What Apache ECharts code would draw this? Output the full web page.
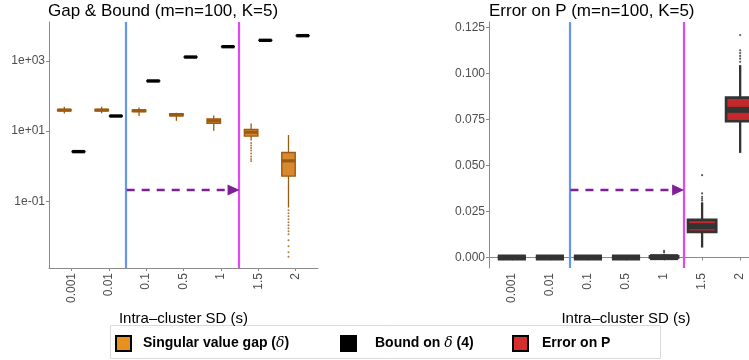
<!DOCTYPE html>
<html>
<head>
<meta charset="utf-8">
<script src="https://cdn.jsdelivr.net/npm/echarts@6/dist/echarts.min.js"></script>
<style>
  html, body { margin: 0; padding: 0; background: #fff; }
  #chart { width: 749px; height: 360px; }
</style>
</head>
<body>
<div id="chart"></div>
<script>
// categories (intra-cluster SD) placed at 1..7 on a value axis
const sdLabels = ['0.001', '0.01', '0.1', '0.5', '1', '1.5', '2'];
const sdPos = [1, 2, 3, 4, 5, 6, 7];

// box stats: [lower whisker, q1, median, q3, upper whisker]
const gapStats = [
  [31.6, 38, 39.8, 41.5, 50],
  [32.5, 38, 39.8, 41.5, 50],
  [27, 36.4, 38, 40, 47],
  [19.7, 27.4, 29.2, 31.2, 33.4],
  [10.2, 16.6, 19.7, 22.4, 28],
  [5.4, 7.2, 9.3, 11.2, 16.6],
  [0.066, 0.52, 1.42, 2.46, 7.7]
];
const gapOutliers = [
  [], [], [], [], [],
  [4.6, 3.9, 3.3, 2.8, 2.3, 1.9, 1.6, 1.4],
  [0.0553, 0.0454, 0.0372, 0.0306, 0.0251, 0.0206, 0.017, 0.0139, 0.0114, 0.0077, 0.0052, 0.0035, 0.0026]
];
const boundStats = [
  [2.58, 2.59, 2.6, 2.61, 2.62],
  [26.8, 26.9, 27, 27.1, 27.2],
  [268, 269, 270, 271, 272],
  [1295, 1298, 1300, 1302, 1305],
  [2560, 2565, 2570, 2575, 2580],
  [3890, 3895, 3900, 3905, 3910],
  [5290, 5295, 5300, 5305, 5310]
];
const errStats = [
  [0, 0, 0, 0, 0],
  [0, 0, 0, 0, 0],
  [0, 0, 0, 0, 0],
  [0, 0, 0, 0, 0],
  [0, 0, 0.0002, 0.0006, 0.0018],
  [0.0054, 0.0139, 0.017, 0.0204, 0.030],
  [0.0568, 0.074, 0.0802, 0.0868, 0.1045]
];
const errOutliers = [
  [], [], [], [],
  [0.0028, 0.0036],
  [0.031, 0.032, 0.033, 0.0348, 0.0447],
  [0.1063, 0.108, 0.1095, 0.111, 0.1125, 0.1208]
];

// threshold lines and arrow height per panel
const leftLines = [2.46, 5.48];
const leftArrowY = 0.21;
const rightLines = [2.52, 5.51];
const rightArrowY = 0.0366;

const leftTicks = [0.1, 10, 1000];
const leftTickText = { 0.1: '1e-01', 10: '1e+01', 1000: '1e+03' };
const rightTicks = [0, 0.025, 0.05, 0.075, 0.1, 0.125];

const FONT = 'Liberation Sans, Arial, Helvetica, sans-serif';
const AXIS_GREY = '#8a8a8a';
const LABEL_GREY = '#4d4d4d';

function toBoxData(stats) {
  return stats.map((s, i) => [sdPos[i]].concat(s));
}

function toPoints(outliers, offset) {
  const pts = [];
  outliers.forEach((arr, i) => arr.forEach((v) => pts.push([sdPos[i] + offset, v])));
  return pts;
}

function boxRenderer(o) {
  return function (params, api) {
    const x = api.value(0) + o.offset;
    const pt = (v) => api.coord([x, v]);
    const lo = pt(api.value(1));
    const q1 = pt(api.value(2));
    const md = pt(api.value(3));
    const q3 = pt(api.value(4));
    const hi = pt(api.value(5));
    const xl = api.coord([x - o.width / 2, api.value(3)])[0];
    const xr = api.coord([x + o.width / 2, api.value(3)])[0];
    const cx = md[0];
    return {
      type: 'group',
      children: [
        { type: 'line', shape: { x1: cx, y1: hi[1], x2: cx, y2: q3[1] }, style: { stroke: o.line, lineWidth: o.whisker } },
        { type: 'line', shape: { x1: cx, y1: q1[1], x2: cx, y2: lo[1] }, style: { stroke: o.line, lineWidth: o.whisker } },
        { type: 'rect', shape: { x: xl, y: q3[1], width: xr - xl, height: q1[1] - q3[1] }, style: { fill: o.fill, stroke: o.line, lineWidth: o.border } },
        { type: 'line', shape: { x1: xl, y1: md[1], x2: xr, y2: md[1] }, style: { stroke: o.line, lineWidth: o.median } }
      ]
    };
  };
}

function thresholdLines(xs, arrowY, end) {
  return {
    silent: true,
    animation: false,
    symbol: 'none',
    label: { show: false },
    emphasis: { disabled: true },
    data: [
      { xAxis: xs[0], lineStyle: { color: '#6394f0', width: 2.2, type: 'solid' } },
      { xAxis: xs[1], lineStyle: { color: '#e346f5', width: 2.2, type: 'solid' } },
      [
        { coord: [xs[0] + 0.02, arrowY], symbol: 'none', lineStyle: { color: '#7e1f96', width: 2.4, type: [8, 7] } },
        { coord: [end, arrowY], symbol: 'triangle', symbolSize: [11, 12] }
      ]
    ]
  };
}

const xAxisBase = {
  type: 'value',
  min: 0.4,
  max: 7.6,
  splitLine: { show: false },
  axisLine: { show: true, lineStyle: { color: AXIS_GREY, width: 1 } },
  axisTick: { show: true, customValues: sdPos, length: 3, lineStyle: { color: AXIS_GREY } },
  axisLabel: {
    customValues: sdPos,
    formatter: (v) => sdLabels[Math.round(v) - 1],
    rotate: 90,
    margin: 5,
    color: LABEL_GREY,
    fontSize: 12,
    fontFamily: FONT
  },
  name: 'Intra–cluster SD (s)',
  nameLocation: 'middle',
  nameGap: 35,
  nameTextStyle: { color: '#000', fontSize: 15, fontFamily: FONT }
};

const legendRich = {
  b: { fontWeight: 'bold', fontSize: 14, color: '#000', fontFamily: FONT },
  d: { fontStyle: 'italic', fontSize: 14, color: '#000', fontFamily: 'DejaVu Serif, serif' }
};
const legendText = {
  gap: '{b|Singular value gap (}{d|δ}{b|)}',
  bound: '{b|Bound on }{d|δ}{b| (4)}',
  err: '{b|Error on P}'
};

function legendAt(name, left, color, pad) {
  return {
    left: left,
    top: 335,
    selectedMode: false,
    itemWidth: 15,
    itemHeight: 15,
    padding: 0,
    data: [{ name: name, icon: 'rect', itemStyle: { color: color, borderColor: '#000', borderWidth: 2 } }],
    formatter: (n) => legendText[n],
    textStyle: { padding: [0, 0, 0, pad], rich: legendRich }
  };
}

const chart = echarts.init(document.getElementById('chart'));

chart.setOption({
  animation: false,
  textStyle: { fontFamily: FONT },
  title: [
    { text: 'Gap & Bound (m=n=100, K=5)', left: 48, top: 3, padding: 0, textStyle: { fontSize: 17, fontWeight: 'normal', color: '#000', fontFamily: FONT } },
    { text: 'Error on P (m=n=100, K=5)', left: 489, top: 3, padding: 0, textStyle: { fontSize: 17, fontWeight: 'normal', color: '#000', fontFamily: FONT } }
  ],
  grid: [
    { left: 49, top: 22, width: 269, height: 246, outerBoundsMode: 'none' },
    { left: 489, top: 22, width: 274, height: 246, outerBoundsMode: 'none' }
  ],
  xAxis: [
    Object.assign({}, xAxisBase, { gridIndex: 0 }),
    Object.assign({}, xAxisBase, { gridIndex: 1 })
  ],
  yAxis: [
    {
      type: 'log',
      gridIndex: 0,
      logBase: 10,
      min: Math.pow(10, -2.906),
      max: Math.pow(10, 4.114),
      splitLine: { show: false },
      axisLine: { show: true, lineStyle: { color: AXIS_GREY } },
      axisTick: { show: true, customValues: leftTicks, length: 3, lineStyle: { color: AXIS_GREY } },
      axisLabel: {
        customValues: leftTicks,
        formatter: (v) => leftTickText[v] || '',
        color: LABEL_GREY,
        fontSize: 12,
        margin: 4,
        fontFamily: FONT
      }
    },
    {
      type: 'value',
      gridIndex: 1,
      min: -0.0057,
      max: 0.1279,
      splitLine: { show: false },
      axisLine: { show: true, lineStyle: { color: AXIS_GREY } },
      axisTick: { show: true, customValues: rightTicks, length: 3, lineStyle: { color: AXIS_GREY } },
      axisLabel: {
        customValues: rightTicks,
        formatter: (v) => v.toFixed(3),
        color: LABEL_GREY,
        fontSize: 12,
        margin: 4,
        fontFamily: FONT
      }
    }
  ],
  legend: [
    legendAt('gap', 115, '#e8921e', 7),
    legendAt('bound', 340, '#000000', 14),
    legendAt('err', 512, '#d32f2f', 9)
  ],
  graphic: [
    { type: 'rect', shape: { x: 110.5, y: 325.5, width: 550, height: 33 }, style: { fill: 'none', stroke: '#dadada', lineWidth: 1 }, silent: true }
  ],
  series: [
    {
      name: 'gap',
      type: 'custom',
      xAxisIndex: 0,
      yAxisIndex: 0,
      clip: true,
      itemStyle: { color: '#e8921e' },
      encode: { x: 0, y: [1, 2, 3, 4, 5] },
      renderItem: boxRenderer({ offset: -0.19, width: 0.36, fill: '#d8892f', line: '#9c5a10', border: 1.4, median: 3.2, whisker: 1.3 }),
      data: toBoxData(gapStats)
    },
    {
      name: 'gap',
      type: 'scatter',
      xAxisIndex: 0,
      yAxisIndex: 0,
      symbolSize: 2,
      itemStyle: { color: '#9c5a10' },
      data: toPoints(gapOutliers, -0.19),
      markLine: thresholdLines(leftLines, leftArrowY, leftLines[1] - 0.14)
    },
    {
      name: 'bound',
      type: 'custom',
      xAxisIndex: 0,
      yAxisIndex: 0,
      clip: true,
      itemStyle: { color: '#000' },
      encode: { x: 0, y: [1, 2, 3, 4, 5] },
      renderItem: boxRenderer({ offset: 0.19, width: 0.34, fill: '#000', line: '#000', border: 1.5, median: 3.4, whisker: 1.3 }),
      data: toBoxData(boundStats)
    },
    {
      name: 'err',
      type: 'custom',
      xAxisIndex: 1,
      yAxisIndex: 1,
      clip: true,
      itemStyle: { color: '#d32f2f' },
      encode: { x: 0, y: [1, 2, 3, 4, 5] },
      renderItem: boxRenderer({ offset: 0, width: 0.74, fill: '#c4282b', line: '#333333', border: 2.7, median: 6, whisker: 2.3 }),
      data: toBoxData(errStats)
    },
    {
      name: 'err',
      type: 'scatter',
      xAxisIndex: 1,
      yAxisIndex: 1,
      symbolSize: 2.2,
      itemStyle: { color: '#333333' },
      data: toPoints(errOutliers, 0),
      markLine: thresholdLines(rightLines, rightArrowY, rightLines[1] - 0.14)
    }
  ]
});
</script>
</body>
</html>
